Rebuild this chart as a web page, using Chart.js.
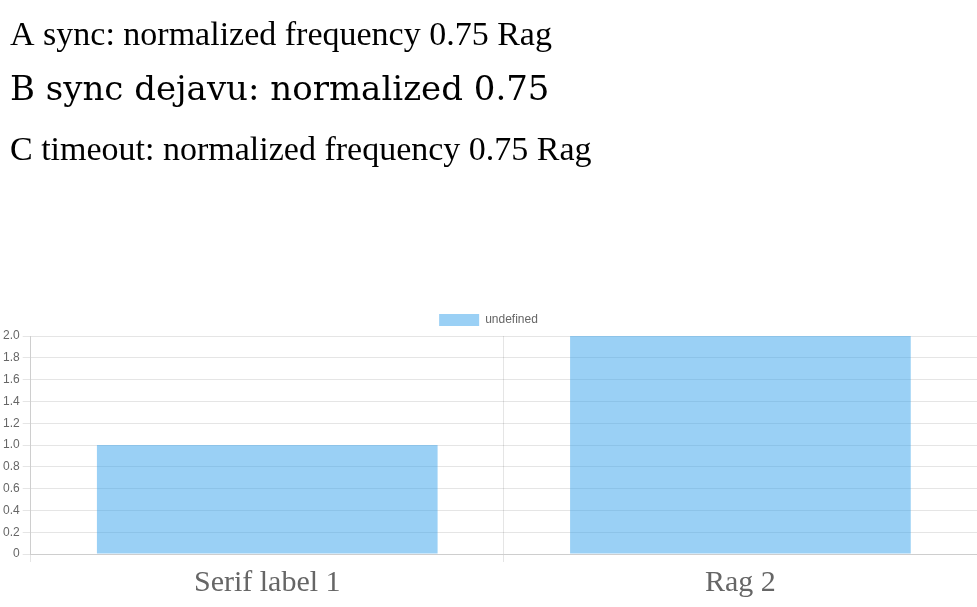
<!DOCTYPE html>
<html><head><meta charset="utf-8">
<script src="https://cdn.jsdelivr.net/npm/chart.js@4.4.1/dist/chart.umd.min.js"></script>
</head>
<body style="margin:0">
<canvas id="c" width="977" height="300"></canvas>
<div style="width:977px;height:300px"><canvas id="d"></canvas></div>
<script>
const ctx = document.getElementById('c').getContext('2d');
ctx.fillStyle = '#000';
ctx.font = "34px 'Liberation Serif'";
ctx.fillText('A sync: normalized frequency 0.75 Rag', 10, 45);
ctx.font = '34px "DejaVu Serif"';
ctx.fillText('B sync dejavu: normalized 0.75', 10, 100);
setTimeout(() => {
  ctx.font = "34px 'Liberation Serif'";
  ctx.fillText('C timeout: normalized frequency 0.75 Rag', 10, 160);
}, 300);
new Chart(document.getElementById('d'), {
  type: 'bar',
  data: { labels: ['Serif label 1', 'Rag 2'], datasets: [{ data: [1, 2] }] },
  options: { animation: false, responsive: true, maintainAspectRatio: false,
    scales: { x: { ticks: { font: { family: "'Liberation Serif'", size: 30 } } } } }
});
</script>
</body></html>
